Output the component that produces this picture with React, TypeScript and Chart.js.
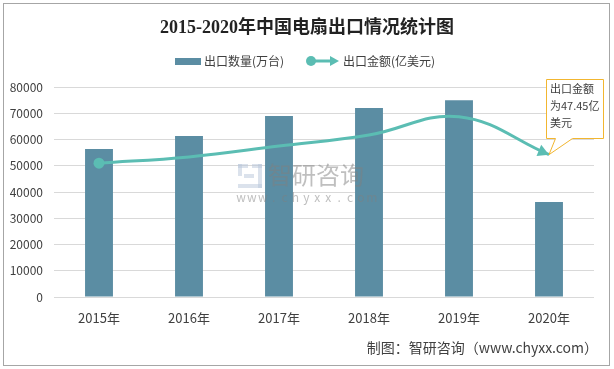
import { useEffect, useRef } from "react";
import { Chart, registerables } from "chart.js";

Chart.register(...registerables);

const categories = ["2015年", "2016年", "2017年", "2018年", "2019年", "2020年"];
const exportVolume = [56400, 61300, 69000, 72000, 75000, 36200]; // 出口数量(万台)
const exportValue = [44.6, 46.7, 50.3, 54.0, 60.1, 47.45]; // 出口金额(亿美元)
const yMax = 80000;
const yStep = 10000;
const valueAxisMax = 70;

const titleText = "2015-2020年中国电扇出口情况统计图";
const legendBar = "出口数量(万台)";
const legendLine = "出口金额(亿美元)";
const calloutLines = ["出口金额", "为47.45亿", "美元"];
const footerText = "制图：智研咨询（www.chyxx.com）";

const BAR_COLOR = "#5B8DA3";
const LINE_COLOR = "#5BBDB3";
const TEXT_COLOR = "#404040";
const CJK = '"Noto Sans CJK SC", "Noto Sans", sans-serif';

function arrowHead(ctx: CanvasRenderingContext2D, x: number, y: number, fx: number, fy: number, len: number, half: number) {
  const a = Math.atan2(y - fy, x - fx);
  ctx.save();
  ctx.translate(x, y);
  ctx.rotate(a);
  ctx.beginPath();
  ctx.moveTo(0, 0);
  ctx.lineTo(-len, -half);
  ctx.lineTo(-len, half);
  ctx.closePath();
  ctx.fillStyle = LINE_COLOR;
  ctx.fill();
  ctx.restore();
}

const decor = {
  id: "decor",
  beforeDraw(chart: any) {
    const ctx = chart.ctx as CanvasRenderingContext2D;
    ctx.save();
    ctx.fillStyle = "#ffffff";
    ctx.fillRect(0, 0, chart.width, chart.height);
    ctx.strokeStyle = "#A6A6A6";
    ctx.lineWidth = 1;
    ctx.strokeRect(3.5, 3.5, 606, 362);

    // title
    ctx.fillStyle = "#222222";
    ctx.font = 'bold 18px "Liberation Serif", "Noto Sans CJK SC", serif';
    ctx.textAlign = "center";
    ctx.textBaseline = "middle";
    ctx.fillText(titleText, 307, 28);

    // legend
    ctx.fillStyle = BAR_COLOR;
    ctx.fillRect(175, 58, 26, 7);
    ctx.font = `12px ${CJK}`;
    ctx.textAlign = "left";
    ctx.fillStyle = TEXT_COLOR;
    ctx.fillText(legendBar, 204, 61.5);

    ctx.strokeStyle = LINE_COLOR;
    ctx.lineWidth = 3;
    ctx.beginPath();
    ctx.moveTo(311, 61);
    ctx.lineTo(332, 61);
    ctx.stroke();
    ctx.fillStyle = LINE_COLOR;
    ctx.beginPath();
    ctx.arc(311, 61, 5, 0, Math.PI * 2);
    ctx.fill();
    arrowHead(ctx, 339, 61, 300, 61, 9, 5);
    ctx.fillStyle = TEXT_COLOR;
    ctx.fillText(legendLine, 343, 61.5);

    // footer
    ctx.font = `14px ${CJK}`;
    ctx.textAlign = "right";
    ctx.fillText(footerText, 598, 348);
    ctx.restore();
  },
  afterDatasetsDraw(chart: any) {
    const ctx = chart.ctx as CanvasRenderingContext2D;
    const meta = chart.getDatasetMeta(1);
    const pts = meta.data;
    const last = pts[pts.length - 1];
    ctx.save();
    // arrow at line end
    const fx = last.cp1x ?? pts[pts.length - 2].x;
    const fy = last.cp1y ?? pts[pts.length - 2].y;
    arrowHead(ctx, last.x, last.y, fx, fy, 11, 6);

    // watermark
    ctx.globalAlpha = 0.5;
    ctx.fillStyle = "#B8C6DA";
    ctx.fillRect(238, 164, 10, 4);
    ctx.fillRect(238, 164, 4, 12);
    ctx.fillRect(252, 164, 10, 4);
    ctx.fillRect(258, 164, 4, 24);
    ctx.fillRect(238, 184, 24, 4);
    ctx.fillRect(244, 174, 10, 4);
    ctx.fillStyle = "#7F7F7F";
    ctx.font = `24px ${CJK}`;
    ctx.textAlign = "left";
    ctx.textBaseline = "middle";
    ctx.fillText("智研咨询", 268, 175);
    ctx.font = `12px ${CJK}`;
    ctx.textAlign = "center";
    const wm = "www.chyxx.com";
    for (let i = 0; i < wm.length; i++) {
      ctx.fillText(wm[i], 241 + i * 10.9, 197);
    }
    ctx.globalAlpha = 1;

    // callout
    const bx = 546.5, by = 79.5, bw = 57, bh = 59;
    ctx.beginPath();
    ctx.moveTo(bx, by);
    ctx.lineTo(bx + bw, by);
    ctx.lineTo(bx + bw, by + bh);
    ctx.lineTo(572.5, by + bh);
    ctx.lineTo(last.x, last.y);
    ctx.lineTo(555.5, by + bh);
    ctx.lineTo(bx, by + bh);
    ctx.closePath();
    ctx.fillStyle = "#ffffff";
    ctx.fill();
    ctx.strokeStyle = "#F2B630";
    ctx.lineWidth = 1;
    ctx.stroke();
    ctx.fillStyle = TEXT_COLOR;
    ctx.font = `11px ${CJK}`;
    ctx.textAlign = "left";
    ctx.textBaseline = "middle";
    calloutLines.forEach((t, i) => ctx.fillText(t, 550, 89 + i * 17));
    ctx.restore();
  },
};

export default function App() {
  const ref = useRef<HTMLCanvasElement>(null);
  useEffect(() => {
    const chart = new Chart(ref.current!, {
      type: "bar",
      data: {
        labels: categories,
        datasets: [
          {
            type: "bar",
            label: legendBar,
            data: exportVolume,
            backgroundColor: BAR_COLOR,
            barPercentage: 0.31,
            categoryPercentage: 1,
            yAxisID: "y",
            order: 1,
          },
          {
            type: "line",
            label: legendLine,
            data: exportValue,
            borderColor: LINE_COLOR,
            backgroundColor: LINE_COLOR,
            borderWidth: 3,
            tension: 0.4,
            pointRadius: [5.5, 0, 0, 0, 0, 0],
            pointBorderWidth: 0,
            yAxisID: "y1",
            order: 0,
          } as any,
        ],
      },
      options: {
        responsive: false,
        animation: false,
        devicePixelRatio: 1,
        layout: { padding: { left: 4, right: 20, top: 87, bottom: 32 } },
        plugins: {
          legend: { display: false },
          title: { display: false },
          tooltip: { enabled: false },
        },
        scales: {
          x: {
            grid: { display: false, drawTicks: false },
            border: { display: false },
            ticks: { padding: 13, color: TEXT_COLOR, font: { size: 13, family: CJK } },
            afterFit: (s: any) => { s.height = 40; },
          },
          y: {
            min: 0,
            max: yMax,
            grid: { color: "#D9D9D9", drawTicks: false, lineWidth: 1 },
            border: { display: false },
            ticks: {
              stepSize: yStep,
              padding: 11,
              color: TEXT_COLOR,
              font: { size: 12, family: CJK },
              callback: (v: any) => String(v),
            },
            afterFit: (s: any) => { s.width = 50; },
          },
          y1: {
            display: false,
            min: 0,
            max: valueAxisMax,
          },
        },
      },
      plugins: [decor],
    });
    return () => chart.destroy();
  }, []);
  return (
    <div style={{ position: "fixed", left: 0, top: 0, width: 614, height: 369, background: "#fff" }}>
      <canvas ref={ref} width={614} height={369} style={{ display: "block", width: 614, height: 369 }} />
    </div>
  );
}
